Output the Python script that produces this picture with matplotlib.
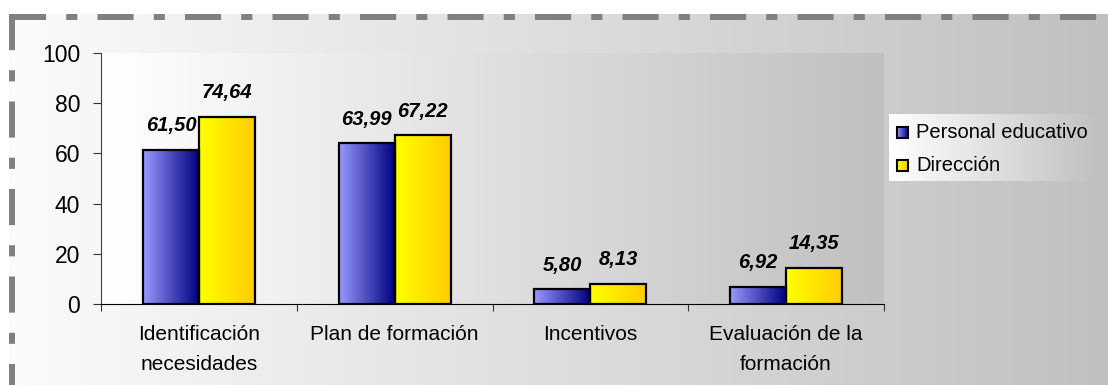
import matplotlib
matplotlib.use('Agg')
import matplotlib.pyplot as plt
import numpy as np
from matplotlib.colors import LinearSegmentedColormap

plt.rcParams['font.family'] = ['Liberation Sans', 'DejaVu Sans']
plt.rcParams['lines.scale_dashes'] = False

categorias = ['Identificación\nnecesidades', 'Plan de formación',
              'Incentivos', 'Evaluación de la\nformación']
personal = [61.50, 63.99, 5.80, 6.92]
direccion = [74.64, 67.22, 8.13, 14.35]
series = ['Personal educativo', 'Dirección']

W, H = 1108, 385
fig = plt.figure(figsize=(W / 100, H / 100), dpi=100)
fig.patch.set_facecolor('white')

# fondo con degradado y marco discontinuo (coordenadas en píxeles)
bg = fig.add_axes([0, 0, 1, 1], zorder=-2)
bg.axis('off')
grad = np.linspace(0, 1, 256).reshape(1, -1)
gris = LinearSegmentedColormap.from_list('gris', ['#fbfbfb', '#c0c0c0'])
bg.imshow(grad, cmap=gris, extent=[9, W, H, 14], aspect='auto')
patron = (0, (26, 14.5, 8, 14.5))
bg.plot([10, W], [17, 17], color='#808080', lw=4.3, linestyle=patron,
        solid_capstyle='butt', dash_capstyle='butt')
bg.plot([12, 12], [14, H], color='#808080', lw=4.3, linestyle=patron,
        solid_capstyle='butt', dash_capstyle='butt')
bg.set_xlim(0, W)
bg.set_ylim(H, 0)

ax = fig.add_axes([101 / W, 1 - 304 / H, (884 - 101) / W, (304 - 53) / H])
ax.patch.set_alpha(0)
ax.imshow(grad, cmap=LinearSegmentedColormap.from_list('area', ['#ffffff', '#c0c0c0']),
          extent=[0, 1, 0, 1], transform=ax.transAxes, aspect='auto', zorder=0)

azul = LinearSegmentedColormap.from_list('azul', ['#9999ff', '#000080'])
amarillo = LinearSegmentedColormap.from_list('amarillo', ['#ffff00', '#ffcc00'])

x = np.arange(len(categorias))
w = 0.286
for vals, off, cmap in [(personal, -w / 2, azul), (direccion, w / 2, amarillo)]:
    barras = ax.bar(x + off, vals, w, facecolor='none', edgecolor='black',
                    linewidth=1.6, zorder=3)
    for b, v in zip(barras, vals):
        bx, by = b.get_x(), b.get_y()
        ax.imshow(grad, cmap=cmap, extent=[bx, bx + b.get_width(), by, by + v],
                  aspect='auto', zorder=2)
        ax.annotate(f'{v:.2f}'.replace('.', ','), (bx + b.get_width() / 2, v),
                    xytext=(0, 13.5), textcoords='offset points', ha='center',
                    va='baseline', fontsize=14.5, fontweight='bold', style='italic')

ax.set_xlim(-0.5, 3.5)
ax.set_ylim(0, 100)
ax.set_aspect('auto')
ax.set_yticks(np.arange(0, 101, 20))
ax.set_xticks(x)
ax.set_xticklabels(categorias, fontsize=15, linespacing=1.75)
ax.set_xticks(np.arange(-0.5, 4, 1), minor=True)
ax.tick_params(axis='x', which='major', length=0, pad=15)
ax.tick_params(axis='x', which='minor', length=5, width=0.8, direction='out',
               color='#333333')
ax.tick_params(axis='y', length=6, width=0.8, color='#333333', labelsize=16.5, pad=9)
for s in ['top', 'right']:
    ax.spines[s].set_visible(False)
ax.spines['left'].set_color('#404040')
ax.spines['bottom'].set_color('#000000')
ax.spines['left'].set_linewidth(0.8)
ax.spines['bottom'].set_linewidth(0.8)

# leyenda
lg = fig.add_axes([889 / W, 1 - 181 / H, (1092 - 889) / W, 67 / H], zorder=5)
lg.axis('off')
lg.imshow(grad, cmap=LinearSegmentedColormap.from_list('ley', ['#ffffff', '#c2c2c2']),
          extent=[889, 1092, 181, 114], aspect='auto')
for nombre, yc, cmap in [(series[0], 132, azul), (series[1], 165, amarillo)]:
    lg.imshow(grad, cmap=cmap, extent=[897, 908, yc + 5.5, yc - 5.5], aspect='auto', zorder=3)
    lg.add_patch(plt.Rectangle((897, yc - 5.5), 11, 11, fill=False, edgecolor='black',
                               lw=1.5, zorder=4))
    lg.text(916, yc, nombre, fontsize=14.5, va='center', ha='left')
lg.set_xlim(889, 1092)
lg.set_ylim(181, 114)

fig.savefig('out.png', dpi=100)
